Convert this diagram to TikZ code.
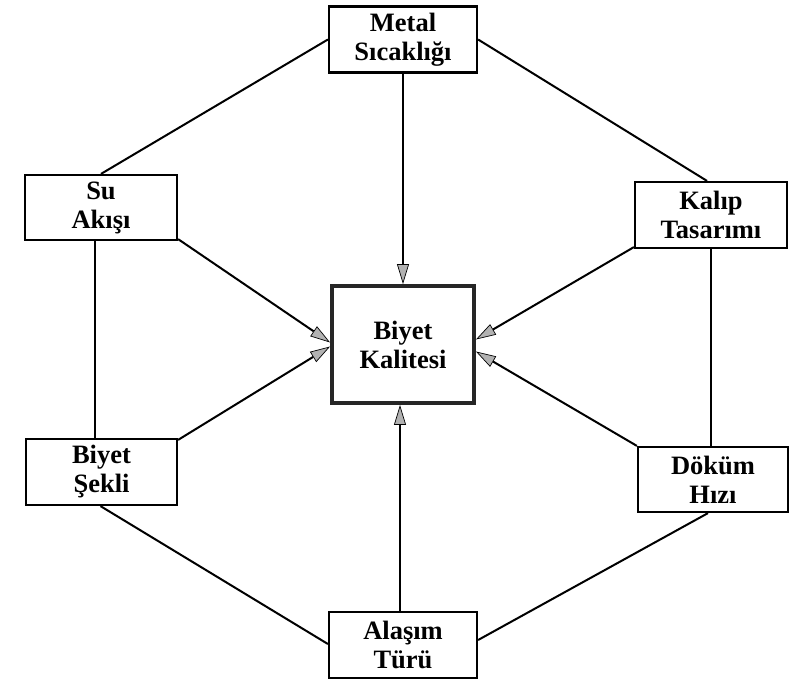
\documentclass[tikz,border=0pt]{standalone}
\usepackage{fontspec}
\setmainfont{Liberation Serif}
\usetikzlibrary{arrows.meta,calc}
\begin{document}
\begin{tikzpicture}[x=1pt,y=-1pt,
  box/.style={draw=black,line width=2.2pt,fill=white,rectangle,align=center,inner sep=0pt,
    font=\fontsize{26.5}{29}\selectfont\bfseries},
  link/.style={draw=black,line width=2pt},
  arr/.style={link,-{Triangle[length=20pt,width=12pt,fill=gray!60,color=black,line width=0.7pt]}}]
\useasboundingbox (0,0) rectangle (796,680);
\node[box,minimum width=148pt,minimum height=66pt] (metal) at (403,39.5) {Metal\\Sıcaklığı};
\node[box,line width=3.8pt,draw=black!85,minimum width=142pt,minimum height=117pt] (center) at (403,344.5) {Biyet\\Kalitesi};
\node[box,minimum width=152pt,minimum height=65pt] (su) at (101,207.5) {Su\\Akışı};
\node[box,minimum width=152pt,minimum height=66pt] (kalip) at (711,215) {Kalıp\\Tasarımı};
\node[box,minimum width=151pt,minimum height=66pt] (sekli) at (101.5,472) {Biyet\\Şekli};
\node[box,minimum width=150pt,minimum height=65pt] (dokum) at (713,479.5) {Döküm\\Hızı};
\node[box,minimum width=148pt,minimum height=66pt] (alasim) at (403,645) {Alaşım\\Türü};
% outer hexagon links
\draw[link] (metal.west) -- (su.north);
\draw[link] (metal.east) -- ($(kalip.north)+(-4,0)$);
\draw[link] ($(su.south)+(-6,0)$) -- ($(sekli.north)+(-6.5,0)$);
\draw[link] (kalip.south) -- ($(dokum.north)+(-2,0)$);
\draw[link] ($(sekli.south)+(-1,0)$) -- ($(alasim.west)+(0,-1)$);
\draw[link] ($(dokum.south)+(-5,0)$) -- ($(alasim.east)+(0,-5)$);
% arrows to center
\draw[arr] (metal.south) -- (center.north);
\draw[arr] ($(alasim.north)+(-3,0)$) -- ($(center.south)+(-3,0)$);
\draw[arr] ($(su.south east)+(0,-2)$) -- ($(center.west)+(0,-2)$);
\draw[arr] ($(sekli.north east)+(0,2)$) -- ($(center.west)+(0,2)$);
\draw[arr] ($(kalip.south west)+(0,-2)$) -- ($(center.east)+(0,-5)$);
\draw[arr] (dokum.north west) -- ($(center.east)+(0,7)$);
\end{tikzpicture}
\end{document}
